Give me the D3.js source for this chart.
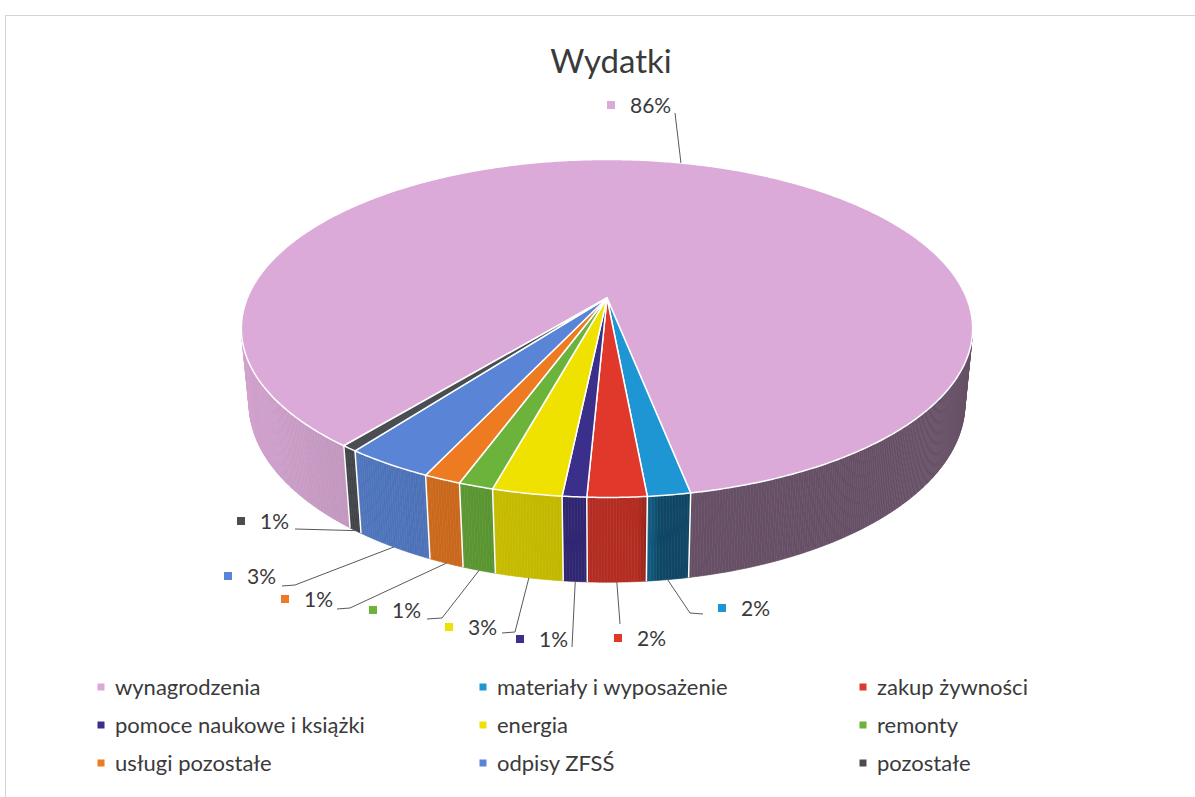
<!DOCTYPE html>
<html>
<head>
<meta charset="utf-8">
<script src="https://cdn.jsdelivr.net/npm/d3@7"></script>
<style>
  body { margin: 0; background: #fff; }
  text { font-family: Lato, "Open Sans", sans-serif; fill: #3a3a3a; }
</style>
</head>
<body>
<script>
// chart data
const categories = ["wynagrodzenia", "materiały i wyposażenie", "zakup żywności",
  "pomoce naukowe i książki", "energia", "remonty", "usługi pozostałe", "odpisy ZFSŚ", "pozostałe"];
const shares = [86.1, 1.6, 2.2, 0.9, 2.6, 1.3, 1.4, 3.3, 0.6];
const percentLabels = ["86%", "2%", "2%", "1%", "3%", "1%", "1%", "3%", "1%"];
const colors = ["#dcaad8", "#1f96d4", "#e0382b", "#3b2f8c", "#f0e200", "#6cb33b", "#ee7b22", "#5a85d6", "#4a4d52"];
const chartTitle = "Wydatki";

// label placement (marker centre, leader elbow, optional horizontal tail end)
const labelLayout = [
  {m: [611, 105], elbow: [675, 113]},
  {m: [722, 608], elbow: [690, 613], tail: 703},
  {m: [618, 638], elbow: [620, 624]},
  {m: [520, 639], elbow: [572, 647]},
  {m: [449, 627], elbow: [515, 632], tail: 502},
  {m: [373, 610], elbow: [442, 618], tail: 427},
  {m: [285, 599], elbow: [350, 608], tail: 337},
  {m: [228, 576], elbow: [295, 585], tail: 282},
  {m: [241, 521], elbow: [295, 529]}
];

const width = 1195, height = 797;
const svg = d3.select("body").append("svg")
  .attr("width", width).attr("height", height);

// faint frame of the chart area
svg.append("rect")
  .attr("x", 5.5).attr("y", 15.5).attr("width", 1200).attr("height", 800)
  .attr("fill", "none").attr("stroke", "#d4d4d4");

// 3d perspective setup
const cx = 607, cy = 298, f = 1811, D = 4.96, depth = 0.231, xScale = 0.985;
const tilt = 26.6 * Math.PI / 180;
const ct = Math.cos(tilt), st = Math.sin(tilt);

function project(theta, r, hgt) {
  const X = r * Math.sin(theta), Z = -r * Math.cos(theta);
  const d = D - (Z * ct + hgt * st);
  const v = -Z * st + hgt * ct;
  return [cx + xScale * f * X / d, cy - f * v / d];
}

// wall shading: light from the left, right side falls into shadow
function shade(color, theta) {
  let psi = (Math.PI - theta) * 180 / Math.PI;
  psi = ((psi + 540) % 360) - 180;
  let k;
  if (psi <= 4) k = 0.8 + 0.15 * Math.min(1, Math.max(0, -psi / 70));
  else if (psi >= 7) k = 0.47;
  else k = 0.8 + (0.47 - 0.8) * (psi - 4) / 3;
  const c = d3.rgb(color);
  return d3.rgb(c.r * k, c.g * k, c.b * k).formatHex();
}

const a0 = 219 * Math.PI / 180;
const arcs = d3.pie().sort(null).value(d => d)
  .startAngle(a0).endAngle(a0 + 2 * Math.PI)(shares);

const thr = -1 / (D * ct);
const visible = t => Math.cos(t) < thr;

// outer walls
const gWall = svg.append("g");
const step = 0.4 * Math.PI / 180;
arcs.forEach((a, i) => {
  for (let t = a.startAngle; t < a.endAngle; t += step) {
    const t2 = Math.min(t + step, a.endAngle);
    if (!visible(t) && !visible(t2)) continue;
    const p = [project(t, 1, 0), project(t2, 1, 0), project(t2, 1, -depth), project(t, 1, -depth)];
    const col = shade(colors[i], (t + t2) / 2);
    gWall.append("path")
      .attr("d", "M" + p.join("L") + "Z")
      .attr("fill", col).attr("stroke", col).attr("stroke-width", 0.6);
  }
});
// white seams between wall pieces
arcs.forEach(a => {
  if (!visible(a.startAngle)) return;
  const p1 = project(a.startAngle, 1, 0), p2 = project(a.startAngle, 1, -depth);
  gWall.append("line")
    .attr("x1", p1[0]).attr("y1", p1[1]).attr("x2", p2[0]).attr("y2", p2[1])
    .attr("stroke", "#fff").attr("stroke-width", 1.5);
});

// top faces
const gTop = svg.append("g");
arcs.forEach((a, i) => {
  const pts = [[cx, cy]];
  const n = Math.max(2, Math.ceil((a.endAngle - a.startAngle) / (0.5 * Math.PI / 180)));
  for (let k = 0; k <= n; k++) {
    pts.push(project(a.startAngle + (a.endAngle - a.startAngle) * k / n, 1, 0));
  }
  gTop.append("path")
    .attr("d", "M" + pts.join("L") + "Z")
    .attr("fill", colors[i])
    .attr("stroke", "#fff").attr("stroke-width", 1.5)
    .attr("stroke-linejoin", "round");
});

// data labels with leader lines
const gLab = svg.append("g");
arcs.forEach((a, i) => {
  const mid = (a.startAngle + a.endAngle) / 2;
  const start = visible(mid) ? project(mid, 1, -depth) : project(mid, 1, 0);
  const L = labelLayout[i];
  const pts = [start, L.elbow];
  if (L.tail !== undefined) pts.push([L.tail, L.elbow[1] + 1]);
  gLab.append("path")
    .attr("d", "M" + pts.join("L"))
    .attr("fill", "none").attr("stroke", "#595959").attr("stroke-width", 1);
  gLab.append("rect")
    .attr("x", L.m[0] - 4).attr("y", L.m[1] - 4).attr("width", 8).attr("height", 8)
    .attr("fill", colors[i]);
  gLab.append("text")
    .attr("x", L.m[0] + 19).attr("y", L.m[1])
    .attr("dy", "0.36em")
    .attr("font-size", 21)
    .text(percentLabels[i]);
});

// title
svg.append("text")
  .attr("x", 611).attr("y", 73)
  .attr("text-anchor", "middle")
  .attr("font-size", 33)
  .text(chartTitle);

// legend: three columns
const legendX = [101, 483, 863], legendY = [687, 725, 763];
const gLeg = svg.append("g");
categories.forEach((name, i) => {
  const x = legendX[i % 3], y = legendY[Math.floor(i / 3)];
  gLeg.append("rect")
    .attr("x", x - 3.5).attr("y", y - 3.5).attr("width", 7).attr("height", 7)
    .attr("fill", colors[i]);
  gLeg.append("text")
    .attr("x", x + 14).attr("y", y)
    .attr("dy", "0.36em")
    .attr("font-size", 22)
    .text(name);
});
</script>
</body>
</html>
